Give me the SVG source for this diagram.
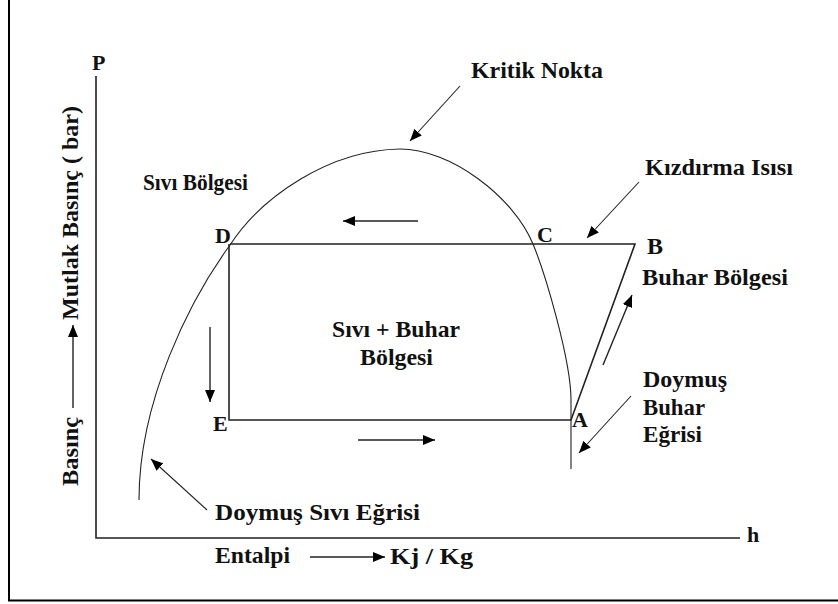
<svg xmlns="http://www.w3.org/2000/svg" width="838" height="604" viewBox="0 0 838 604" font-family="'Liberation Serif', 'Times New Roman', 'DejaVu Serif', serif">
<style>
text{font-family:'Liberation Serif','Times New Roman','DejaVu Serif',serif;font-weight:bold;fill:#111;font-size:24px}
.pt{font-size:22px}
.ln{fill:none;stroke:#222;stroke-width:1.6}
.thin{fill:none;stroke:#222;stroke-width:1.1}
.arr{fill:none;stroke:#222;stroke-width:1.4;marker-end:url(#ah)}
.arr2{fill:none;stroke:#222;stroke-width:1.1;marker-end:url(#ah)}
</style>
<defs>
<marker id="ah" viewBox="0 0 12 10" refX="12" refY="5" markerWidth="12" markerHeight="10" markerUnits="userSpaceOnUse" orient="auto"><path d="M0,0 L12,5 L0,10 z" fill="#000"/></marker>
</defs>
<rect width="838" height="604" fill="#fff"/>
<path d="M9,0 V600.5 H838" fill="none" stroke="#000" stroke-width="2"/>
<g id="axes">
<path class="ln" d="M96,76 V538 H740"/>
<text id="lblP" class="pt" x="92" y="70">P</text>
<text id="lblh" class="pt" x="747" y="542">h</text>
</g>
<g id="dome">
<path class="thin" d="M139,500 C139,400 190,300 230,245 C262,196 330,150 400,149 C450,149 513,196 533,244 C545,273 571,360 571,400 L571,469"/>
</g>
<g id="cycle">
<path class="ln" d="M230,244 H635 L571,420 H229 V244"/>
</g>
<g id="connectors">
<line class="arr" x1="418" y1="221" x2="343" y2="221"/>
<line class="arr" x1="210" y1="327" x2="210" y2="402"/>
<line class="arr" x1="358" y1="440" x2="435" y2="440"/>
<line class="arr" x1="603" y1="365" x2="632" y2="295"/>
<line class="arr2" x1="460" y1="86" x2="410" y2="141"/>
<line class="arr2" x1="639" y1="182" x2="587" y2="238"/>
<line class="arr2" x1="631" y1="396" x2="579" y2="453"/>
<line class="arr2" x1="207" y1="510" x2="151" y2="459"/>
<line class="arr" x1="310" y1="557" x2="385" y2="557"/>
<line class="arr" x1="73" y1="408" x2="73" y2="325"/>
</g>
<g id="ptD"><text class="pt" x="215" y="243">D</text></g>
<g id="ptC"><text class="pt" x="537" y="242">C</text></g>
<g id="ptB"><text x="647" y="254">B</text></g>
<g id="ptE"><text class="pt" x="213" y="431">E</text></g>
<g id="ptA"><text class="pt" x="572" y="427">A</text></g>
<g id="kritik"><text x="471" y="78" textLength="132" lengthAdjust="spacingAndGlyphs">Kritik Nokta</text></g>
<g id="kizdirma"><text x="645" y="175" textLength="148" lengthAdjust="spacingAndGlyphs">Kızdırma Isısı</text></g>
<g id="sivi"><text x="143" y="190" textLength="105" lengthAdjust="spacingAndGlyphs">Sıvı Bölgesi</text></g>
<g id="buharBolgesi"><text x="642" y="285" textLength="146" lengthAdjust="spacingAndGlyphs">Buhar Bölgesi</text></g>
<g id="karisim">
<text x="332" y="337" textLength="128" lengthAdjust="spacingAndGlyphs">Sıvı + Buhar</text>
<text x="360" y="365" textLength="73" lengthAdjust="spacingAndGlyphs">Bölgesi</text>
</g>
<g id="doymusBuhar">
<text x="643" y="387" textLength="84" lengthAdjust="spacingAndGlyphs">Doymuş</text>
<text x="643" y="415" textLength="62" lengthAdjust="spacingAndGlyphs">Buhar</text>
<text x="643" y="442" textLength="59" lengthAdjust="spacingAndGlyphs">Eğrisi</text>
</g>
<g id="doymusSivi"><text x="215" y="520" textLength="205" lengthAdjust="spacingAndGlyphs">Doymuş Sıvı Eğrisi</text></g>
<g id="xlabel">
<text x="215" y="563" textLength="75" lengthAdjust="spacingAndGlyphs">Entalpi</text>
<text x="390" y="564" textLength="83" lengthAdjust="spacingAndGlyphs">Kj / Kg</text>
</g>
<g id="ylabel">
<text transform="translate(78,486) rotate(-90)" textLength="69" lengthAdjust="spacingAndGlyphs">Basınç</text>
<text transform="translate(78,320) rotate(-90)" textLength="214" lengthAdjust="spacingAndGlyphs">Mutlak Basınç ( bar)</text>
</g>
</svg>
